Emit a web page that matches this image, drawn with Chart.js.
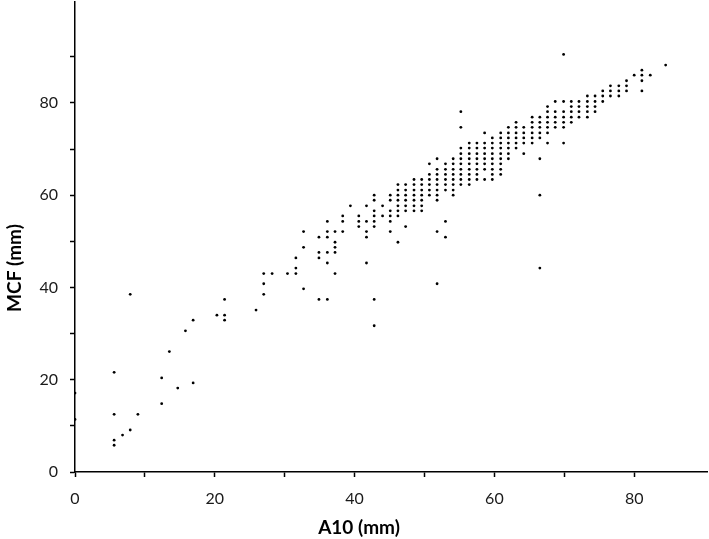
<!DOCTYPE html>
<html>
<head>
<meta charset="utf-8">
<title>MCF vs A10</title>
<script src="https://cdn.jsdelivr.net/npm/chart.js@4/dist/chart.umd.min.js"></script>
<style>
  html, body { margin: 0; padding: 0; background: #fff; }
</style>
</head>
<body>
<canvas id="chart" width="709" height="539"></canvas>
<script>
// MCF levels (mm), top to bottom
const mcfLevels = [
  90.5, 88.2, 87.1, 86.0, 84.8, 83.7, 82.6, 81.5, 80.3, 79.2,
  78.1, 76.9, 75.8, 74.7, 73.5, 72.4, 71.3, 70.2, 69.0, 67.9,
  66.8, 65.6, 64.5, 63.4, 62.3, 61.1, 60.0, 58.9, 57.7, 56.6,
  55.5, 54.3, 53.2, 52.1, 50.9, 49.8, 48.7, 47.6, 46.4, 45.3,
  44.2, 43.0, 40.8, 39.7, 38.5, 37.4, 35.1, 34.0, 32.9, 31.7,
  30.6, 26.1, 21.6, 20.4, 19.3, 18.2, 17.1, 14.8, 12.5, 11.4,
  9.1, 8.0, 6.9, 5.8
];

// A10 values (mm) measured at each MCF level above
const a10AtLevel = [
  [69.9],
  [84.5],
  [81.1],
  [80.0, 81.1, 82.3],
  [78.9, 81.1],
  [76.6, 77.8, 78.9],
  [75.5, 76.6, 77.8, 78.9, 81.1],
  [73.3, 74.4, 75.5, 76.6, 77.8],
  [68.7, 69.9, 71.0, 72.1, 73.3, 74.4, 75.5],
  [67.6, 71.0, 72.1, 73.3, 74.4],
  [55.2, 67.6, 68.7, 69.9, 71.0, 72.1, 73.3, 74.4],
  [65.4, 66.5, 67.6, 68.7, 69.9, 71.0, 72.1, 73.3],
  [63.1, 65.4, 66.5, 67.6, 68.7, 69.9, 71.0],
  [55.2, 62.0, 63.1, 64.2, 65.4, 66.5, 67.6, 68.7, 69.9],
  [58.6, 60.9, 62.0, 63.1, 64.2, 65.4, 66.5, 67.6],
  [59.7, 60.9, 62.0, 63.1, 64.2, 65.4, 66.5],
  [56.4, 57.5, 58.6, 59.7, 60.9, 62.0, 63.1, 64.2, 65.4, 67.6, 69.9],
  [55.2, 56.4, 57.5, 58.6, 59.7, 60.9, 62.0, 63.1],
  [55.2, 56.4, 57.5, 58.6, 59.7, 60.9, 62.0, 64.2],
  [51.8, 54.1, 55.2, 56.4, 57.5, 58.6, 59.7, 60.9, 62.0, 66.5],
  [50.7, 53.0, 54.1, 55.2, 56.4, 57.5, 58.6, 59.7, 60.9],
  [51.8, 53.0, 54.1, 55.2, 56.4, 57.5, 58.6, 59.7, 60.9],
  [50.7, 51.8, 53.0, 54.1, 55.2, 56.4, 57.5, 59.7, 60.9],
  [48.5, 49.6, 50.7, 51.8, 53.0, 54.1, 55.2, 56.4, 57.5, 58.6, 59.7],
  [46.2, 47.3, 48.5, 49.6, 50.7, 51.8, 53.0, 54.1, 55.2, 56.4],
  [46.2, 47.3, 48.5, 49.6, 50.7, 51.8, 53.0, 54.1],
  [42.8, 45.1, 46.2, 47.3, 48.5, 49.6, 50.7, 51.8, 54.1, 66.5],
  [42.8, 45.1, 46.2, 47.3, 48.5, 49.6, 51.8],
  [39.4, 41.7, 44.0, 46.2, 47.3, 48.5, 49.6],
  [42.8, 45.1, 46.2, 47.3, 48.5, 49.6],
  [38.3, 40.6, 42.8, 44.0, 45.1, 46.2],
  [36.1, 38.3, 40.6, 41.7, 42.8, 45.1, 53.0],
  [40.6, 42.8, 47.3],
  [32.7, 36.1, 37.2, 38.3, 41.7, 45.1, 51.8],
  [34.9, 36.1, 41.7, 53.0],
  [37.2, 46.2],
  [32.7, 37.2],
  [34.9, 36.1, 37.2],
  [31.6, 34.9],
  [36.1, 41.7],
  [31.6, 66.5],
  [27.0, 28.2, 30.4, 31.6, 37.2],
  [27.0, 51.8],
  [32.7],
  [7.9, 27.0],
  [21.4, 34.9, 36.1, 42.8],
  [25.9],
  [20.3, 21.4],
  [16.9, 21.4],
  [42.8],
  [15.8],
  [13.5],
  [5.6],
  [12.4],
  [16.9],
  [14.7],
  [0],
  [12.4],
  [5.6, 9.0],
  [0],
  [7.9],
  [6.8],
  [5.6],
  [5.6]
];

const xTickLabels = ['0', '20', '40', '60', '80'];
const yTickLabels = ['0', '20', '40', '60', '80'];

const points = [];
mcfLevels.forEach((mcf, i) => {
  a10AtLevel[i].forEach(a10 => points.push({ x: a10, y: mcf }));
});

// titles sit off-centre in the original, so they are drawn by hand
const axisTitles = {
  id: 'axisTitles',
  afterDraw(chart) {
    const ctx = chart.ctx;
    ctx.save();
    ctx.fillStyle = '#000';
    ctx.font = 'bold 19px Lato';
    ctx.textAlign = 'center';
    ctx.textBaseline = 'middle';
    ctx.fillText('A10 (mm)', 359, 528);
    ctx.translate(15, 268);
    ctx.rotate(-Math.PI / 2);
    ctx.fillText('MCF (mm)', 0, 0);
    ctx.restore();
  }
};

// major ticks get a label, minor ones just a tick mark; last tick hidden
function tickText(labels, lastMinor) {
  return value => {
    if (value % 10 !== 0 || value > lastMinor) return null;
    const s = String(value);
    return labels.includes(s) ? s : '';
  };
}

function noPadding(s) {
  s.paddingTop = 0;
  s.paddingBottom = 0;
  s.paddingLeft = 0;
  s.paddingRight = 0;
}

new Chart(document.getElementById('chart'), {
  type: 'scatter',
  data: {
    datasets: [{
      label: 'MCF vs A10',
      data: points,
      backgroundColor: '#000',
      borderWidth: 0,
      pointRadius: 1.4,
      pointHoverRadius: 1.4
    }]
  },
  options: {
    responsive: false,
    animation: false,
    layout: { padding: { top: 1, right: 0, left: 0, bottom: 0 } },
    plugins: { legend: { display: false }, tooltip: { enabled: false } },
    scales: {
      x: {
        type: 'linear',
        min: 0,
        max: 90.5,
        afterFit: s => { s.height = 67; noPadding(s); },
        border: { display: true, color: '#000', width: 1.5 },
        grid: { drawOnChartArea: false, drawTicks: true, tickLength: 5, tickWidth: 1.5, tickColor: '#000' },
        ticks: {
          stepSize: 10,
          includeBounds: false,
          maxRotation: 0,
          autoSkip: false,
          padding: 12,
          color: '#1a1a1a',
          font: { family: 'Lato', size: 16 },
          callback: tickText(xTickLabels, 80)
        }
      },
      y: {
        type: 'linear',
        min: 0,
        max: 102,
        afterFit: s => { s.width = 75; noPadding(s); },
        border: { display: true, color: '#000', width: 1.5 },
        grid: { drawOnChartArea: false, drawTicks: true, tickLength: 5, tickWidth: 1.5, tickColor: '#000' },
        ticks: {
          stepSize: 10,
          includeBounds: false,
          autoSkip: false,
          padding: 12,
          color: '#1a1a1a',
          font: { family: 'Lato', size: 16 },
          callback: tickText(yTickLabels, 90)
        }
      }
    }
  },
  plugins: [axisTitles]
});
</script>
</body>
</html>
